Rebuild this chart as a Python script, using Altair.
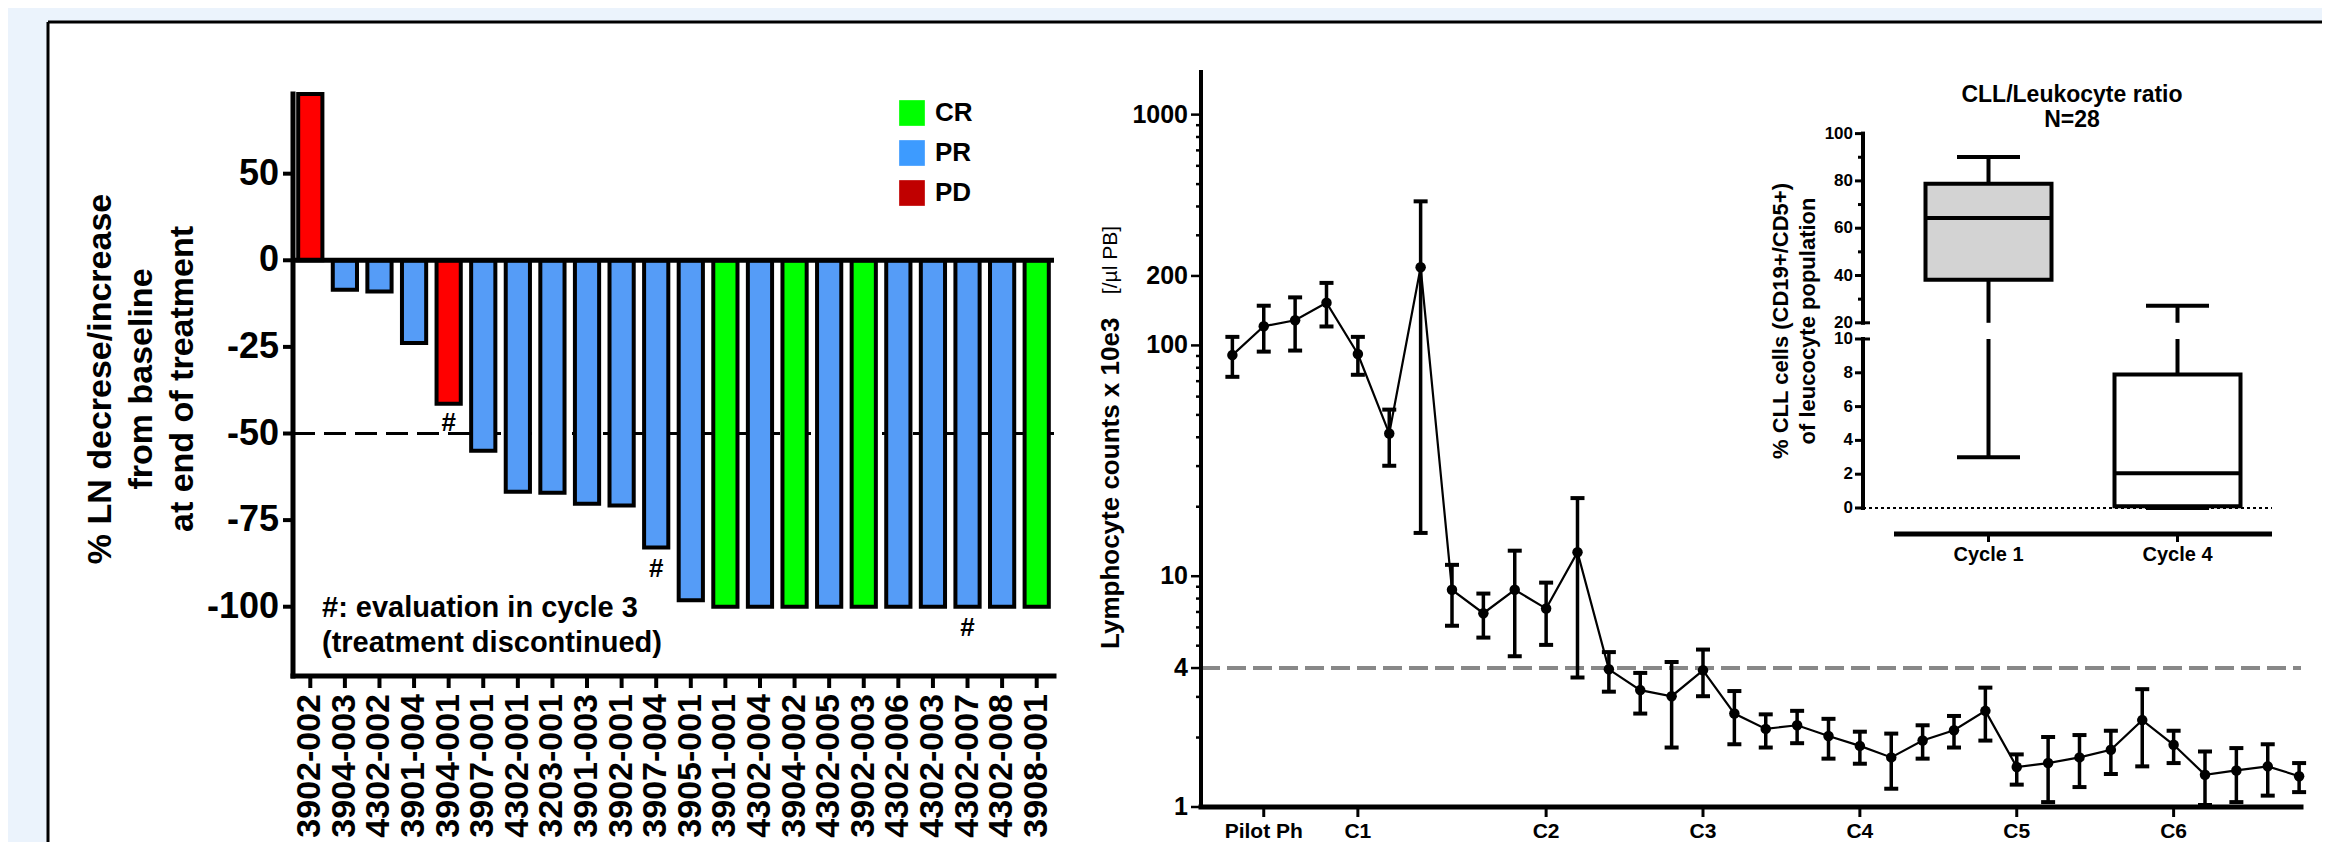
import altair as alt
import pandas as pd

FONT = "Liberation Sans"

# ---------------- left panel: waterfall of lymph-node change ----------------
patient_ids = ["3902-002", "3904-003", "4302-002", "3901-004", "3904-001", "3907-001",
               "4302-001", "3203-001", "3901-003", "3902-001", "3907-004", "3905-001",
               "3901-001", "4302-004", "3904-002", "4302-005", "3902-003", "4302-006",
               "4302-003", "4302-007", "4302-008", "3908-001"]
ln_change = [96, -8.5, -9.0, -23.9, -41.4, -55.0, -66.8, -67.1, -70.3, -70.8, -82.9, -98.1,
             -100, -100, -100, -100, -100, -100, -100, -100, -100, -100]
response = ["PD", "PR", "PR", "PR", "PD", "PR", "PR", "PR", "PR", "PR", "PR", "PR",
            "CR", "PR", "CR", "PR", "CR", "PR", "PR", "PR", "PR", "CR"]
resp_order = ["CR", "PR", "PD"]
resp_colors = ["#00ff00", "#559cf7", "#ff0000"]
legend_colors = ["#00ff00", "#3d9bff", "#c00000"]
hash_ids = ["3904-001", "3907-004", "4302-007"]
hash_pos = [-47, -89, -106]
ln_domain = [-120, 48]                      # positive half drawn at half scale
ln_tick_pos = [-100, -75, -50, -25, 0, 25]
ln_tick_lab = ["-100", "-75", "-50", "-25", "0", "50"]
ln_title = ["% LN decrese/increase", "from baseline", "at end of treatment"]
note_text = "#: evaluation in cycle 3\n(treatment discontinued)"

# ---------------- right panel: lymphocyte counts ----------------
visit_index = list(range(35))
lymph_mean = [90.8, 121, 128.5, 153, 91.8, 41.5, 218, 8.73, 6.91, 8.73, 7.24, 12.7, 3.95,
              3.21, 3.02, 3.91, 2.54, 2.18, 2.26, 2.03, 1.84, 1.64, 1.94, 2.15, 2.61, 1.49,
              1.55, 1.64, 1.77, 2.38, 1.86, 1.38, 1.44, 1.50, 1.36]
lymph_upper = [108.9, 148.6, 161.5, 186.6, 108.9, 52.7, 421, 11.2, 8.41, 12.9, 9.38, 21.8,
               4.69, 3.81, 4.25, 4.81, 3.18, 2.52, 2.61, 2.41, 2.12, 2.08, 2.26, 2.48, 3.29,
               1.69, 2.01, 2.05, 2.14, 3.24, 2.14, 1.74, 1.80, 1.87, 1.55]
lymph_lower = [73.1, 94, 95, 120.8, 74.6, 30.1, 15.4, 6.1, 5.42, 4.5, 5.04, 3.64, 3.16,
               2.54, 1.81, 3.02, 1.87, 1.81, 1.89, 1.62, 1.54, 1.2, 1.62, 1.81, 1.94, 1.25,
               1.05, 1.22, 1.39, 1.5, 1.55, 1.02, 1.05, 1.12, 1.16]
x_tick_pos = [1, 4, 10, 15, 20, 25, 30]
x_tick_lab = ["Pilot Ph", "C1", "C2", "C3", "C4", "C5", "C6"]
y_major = [1, 4, 10, 100, 200, 1000]
y_minor = [2, 3, 5, 6, 7, 8, 9, 20, 30, 40, 50, 60, 70, 80, 90,
           300, 400, 500, 600, 700, 800, 900]
y_title_main = "Lymphocyte counts x 10e3"
y_title_unit = "[/µl PB]"
threshold = [4]
x_domain = [-1, 34.06]
y_domain = [1, 1530]

# ---------------- inset: CLL / leukocyte ratio ----------------
cycles = ["Cycle 1", "Cycle 4"]
box_low = [3.0, 0.0]
box_q1 = [38.2, 0.1]
box_med = [64.3, 2.05]
box_q3 = [78.8, 7.9]
box_high = [90.1, 27.2]
box_fill = ["#d3d3d3", "#ffffff"]
upper_domain = [20, 100]
upper_major = [20, 40, 60, 80, 100]
upper_minor = [30, 50, 70, 90]
lower_domain = [0, 10]
lower_major = [0, 2, 4, 6, 8, 10]
inset_title = "CLL/Leukocyte ratio\nN=28"
inset_ytitle = ["% CLL cells (CD19+/CD5+)", "of leucocyte population"]

# ---------------- layout (pixels inside the white panel) ----------------
W, H = 2274, 820
BX0, BX1 = 245, 1006
BY_BOT, BY_TOP = 654, 72
RX0, RX1 = 1153, 2253
RY_BOT, RY_TOP = 785, 50
IAX = 1815
IX0, IX1 = 1846, 2224
IU_BOT, IU_TOP = 300.8, 111.6
IL_BOT, IL_TOP = 486, 317
IXAXIS_Y = 512


def df(**cols):
    return pd.DataFrame(cols)


def vrule(data, x, yf, y2f, w):
    return alt.Chart(data).mark_rule(color="black", strokeWidth=w, strokeCap="square").encode(
        x=alt.value(x), y=yf, y2=y2f)


def ticks_left(data, yf, x_axis, length, w, right=0):
    return alt.Chart(data).mark_rule(color="black", strokeWidth=w).encode(
        x=alt.value(x_axis - length), x2=alt.value(x_axis + right), y=yf)


def labels_left(data, yf, x_axis, pad, size):
    return alt.Chart(data).mark_text(align="right", baseline="middle", fontSize=size,
                                     fontWeight="bold", color="black").encode(
        x=alt.value(x_axis - pad), y=yf, text="lab:N")


def free_text(txt, x, y, size, angle=0, line_h=None, align="center", weight="bold"):
    props = dict(align=align, baseline="middle", fontSize=size, fontWeight=weight,
                 color="black", lineBreak="\n", angle=angle)
    if line_h:
        props["lineHeight"] = line_h
    return alt.Chart(df(t=[txt])).mark_text(**props).encode(
        x=alt.value(x), y=alt.value(y), text="t:N")


# ======== panel frame (top and left edges only; the others run off the page) ========
frame_df = df(k=[0])
frame_left = alt.Chart(frame_df).mark_rule(color="black", strokeWidth=3).encode(
    x=alt.value(0), y=alt.value(0), y2=alt.value(H))
frame_top = alt.Chart(frame_df).mark_rule(color="black", strokeWidth=3).encode(
    x=alt.value(0), x2=alt.value(W), y=alt.value(0))

# ======== left panel ========
bars_df = df(id=patient_ids, v=ln_change, resp=response)
bar_xscale = alt.Scale(type="band", domain=patient_ids, range=[BX0, BX1],
                       paddingInner=0.3, paddingOuter=0.15)
bar_yscale = alt.Scale(domain=ln_domain, range=[BY_BOT, BY_TOP], nice=False, zero=False)

bars = alt.Chart(bars_df).transform_calculate(
    yp="datum.v > 0 ? datum.v / 2 : datum.v"
).mark_bar(stroke="black", strokeWidth=4).encode(
    x=alt.X("id:N", sort=patient_ids, scale=bar_xscale),
    y=alt.Y("yp:Q", scale=bar_yscale),
    color=alt.Color("resp:N", scale=alt.Scale(domain=resp_order, range=resp_colors), legend=None)
)
dash = alt.Chart(df(yp=[-50])).mark_rule(color="black", strokeWidth=3, strokeDash=[22, 9]).encode(
    y="yp:Q", x=alt.value(BX0), x2=alt.value(BX1))
zero_rule = alt.Chart(df(yp=[0])).mark_rule(color="black", strokeWidth=5).encode(
    y="yp:Q", x=alt.value(BX0), x2=alt.value(BX1))
hashes = alt.Chart(df(id=hash_ids, yp=hash_pos, t=["#"] * len(hash_ids))).mark_text(
    fontSize=26, fontWeight="bold", color="black").encode(
    x=alt.X("id:N", sort=patient_ids), y="yp:Q", text="t:N")
note = free_text(note_text, 274, 586, 29, line_h=35, align="left")

# axes drawn from the same scales
b_ytick_df = df(yp=ln_tick_pos, lab=ln_tick_lab)
b_yline = vrule(df(yp=[ln_domain[0]], yp2=[ln_domain[1]]), BX0, "yp:Q", "yp2:Q", 5)
b_yticks = ticks_left(b_ytick_df, "yp:Q", BX0, 10, 4)
b_ylabels = labels_left(b_ytick_df, "yp:Q", BX0, 14, 36)
b_ytitle = free_text("\n".join(ln_title), 53, 357, 34, angle=270, line_h=41)
b_xline = alt.Chart(df(yp=[ln_domain[0]])).mark_rule(color="black", strokeWidth=5, strokeCap="square").encode(
    y="yp:Q", x=alt.value(BX0), x2=alt.value(BX1))
b_xticks = alt.Chart(bars_df).mark_rule(color="black", strokeWidth=4).encode(
    x=alt.X("id:N", sort=patient_ids), y=alt.value(BY_BOT), y2=alt.value(BY_BOT + 12))
b_xlabels = alt.Chart(bars_df).mark_text(angle=270, align="right", baseline="middle", fontSize=34,
                                         fontWeight="bold", color="black").encode(
    x=alt.X("id:N", sort=patient_ids), y=alt.value(BY_BOT + 18), text="id:N")

bar_group = alt.layer(dash, bars, zero_rule, hashes, note, b_yline, b_yticks, b_ylabels,
                      b_ytitle, b_xline, b_xticks, b_xlabels)

# legend (own colour scale: legend swatches are a darker red than the bars)
legend_layer = alt.Chart(df(resp=resp_order)).mark_square(filled=True, opacity=0).encode(
    x=alt.value(0), y=alt.value(0),
    color=alt.Color("resp:N", scale=alt.Scale(domain=resp_order, range=legend_colors),
                    legend=alt.Legend(title=None, orient="none", legendX=851, legendY=78,
                                      symbolType="square", symbolSize=660, symbolOpacity=1,
                                      symbolStrokeWidth=0, labelFontSize=26,
                                      labelFontWeight="bold", rowPadding=14,
                                      labelOffset=10, padding=0))
)

# ======== right panel ========
lym_df = df(idx=visit_index, mean=lymph_mean, up=lymph_upper, lo=lymph_lower)
main_xscale = alt.Scale(domain=x_domain, range=[RX0, RX1], nice=False, zero=False)
main_yscale = alt.Scale(type="log", domain=y_domain, range=[RY_BOT, RY_TOP], nice=False)

thr = alt.Chart(df(idx=[x_domain[0]], idx2=[x_domain[1]], mean=threshold)).mark_rule(
    color="#888888", strokeWidth=4, strokeDash=[19, 7]).encode(
    x=alt.X("idx:Q", scale=main_xscale), x2="idx2:Q",
    y=alt.Y("mean:Q", scale=main_yscale))
base = alt.Chart(lym_df)
err = base.mark_rule(color="black", strokeWidth=3.5).encode(x="idx:Q", y="lo:Q", y2="up:Q")
cap_up = base.mark_tick(orient="horizontal", size=14, thickness=4, color="black", opacity=1).encode(
    x="idx:Q", y="up:Q")
cap_lo = base.mark_tick(orient="horizontal", size=14, thickness=4, color="black", opacity=1).encode(
    x="idx:Q", y="lo:Q")
line = base.mark_line(color="black", strokeWidth=2.2).encode(x="idx:Q", y="mean:Q")
pts = base.mark_circle(size=110, color="black", opacity=1).encode(x="idx:Q", y="mean:Q")

m_yline = vrule(df(mean=[y_domain[0]], m2=[y_domain[1]]), RX0, "mean:Q", "m2:Q", 4)
m_yticks_major = ticks_left(df(mean=y_major), "mean:Q", RX0, 10, 2.5)
m_yticks_minor = ticks_left(df(mean=y_minor), "mean:Q", RX0, 5, 2.5)
m_ylabels = labels_left(df(mean=y_major, lab=[str(v) for v in y_major]), "mean:Q", RX0, 13, 25)
m_ytitle = free_text(y_title_main, 1063, 627, 26, angle=270, align="left")
m_ytitle_u = free_text(y_title_unit, 1063, 204, 21, angle=270, align="right", weight="normal")
m_xline = alt.Chart(df(idx=[x_domain[0]], idx2=[x_domain[1]], mean=[y_domain[0]])).mark_rule(
    color="black", strokeWidth=5, strokeCap="square").encode(x="idx:Q", x2="idx2:Q", y="mean:Q")
m_xticks = alt.Chart(df(idx=x_tick_pos)).mark_rule(color="black", strokeWidth=3).encode(
    x="idx:Q", y=alt.value(RY_BOT), y2=alt.value(RY_BOT + 10))
m_xlabels = alt.Chart(df(idx=x_tick_pos, lab=x_tick_lab)).mark_text(
    baseline="middle", align="center", fontSize=21, fontWeight="bold", color="black").encode(
    x="idx:Q", y=alt.value(RY_BOT + 25), text="lab:N")

main_group = alt.layer(thr, err, cap_up, cap_lo, line, pts, m_yline, m_yticks_major,
                       m_yticks_minor, m_ylabels, m_ytitle, m_ytitle_u, m_xline, m_xticks,
                       m_xlabels)

# ======== inset ========
box_df = df(cycle=cycles, low=box_low, q1=box_q1, med=box_med, q3=box_q3, high=box_high,
            fill=box_fill)
ix_scale = alt.Scale(type="band", domain=cycles, range=[IX0, IX1], paddingInner=0, paddingOuter=0)
up_scale = alt.Scale(domain=upper_domain, range=[IU_BOT, IU_TOP], nice=False, zero=False, clamp=True)
lo_scale = alt.Scale(domain=lower_domain, range=[IL_BOT, IL_TOP], nice=False, zero=False, clamp=True)
ixn = alt.X("cycle:N", sort=cycles)
BOXW = 126
CAPW = 63

ib = alt.Chart(box_df)
u_wlo = ib.transform_filter("datum.q1 > 20").mark_rule(color="black", strokeWidth=4).encode(
    x=alt.X("cycle:N", sort=cycles, scale=ix_scale),
    y=alt.Y("low:Q", scale=up_scale), y2="q1:Q")
u_whi = ib.transform_filter("datum.high > 20").mark_rule(color="black", strokeWidth=4).encode(
    x=ixn, y="q3:Q", y2="high:Q")
u_box = ib.transform_filter("datum.q3 > 20").mark_bar(width=BOXW, stroke="black", strokeWidth=4).encode(
    x=ixn, y="q1:Q", y2="q3:Q", fill=alt.Fill("fill:N", scale=None))
u_med = ib.transform_filter("datum.med > 20").mark_tick(orient="horizontal", size=BOXW, thickness=4,
                                                        color="black", opacity=1).encode(
    x=ixn, y="med:Q")
u_cap = ib.transform_filter("datum.high > 20").mark_tick(orient="horizontal", size=CAPW, thickness=4,
                                                         color="black", opacity=1).encode(
    x=ixn, y="high:Q")
u_yline = vrule(df(low=[upper_domain[0]], l2=[upper_domain[1]]), IAX, "low:Q", "l2:Q", 4)
u_tmaj = ticks_left(df(low=upper_major[1:]), "low:Q", IAX, 8, 3)
u_tbrk = ticks_left(df(low=upper_major[:1]), "low:Q", IAX, 8, 3, right=7)
u_tmin = ticks_left(df(low=upper_minor), "low:Q", IAX, 5, 3)
u_lab = labels_left(df(low=upper_major, lab=[str(v) for v in upper_major]), "low:Q", IAX, 10, 17)
u_title = free_text("\n".join(inset_ytitle), 1733, 299, 22, angle=270, line_h=27)
inset_up = alt.layer(u_wlo, u_whi, u_box, u_med, u_cap, u_yline, u_tmaj, u_tbrk, u_tmin, u_lab,
                     u_title)

l_zero = alt.Chart(df(low=[0])).mark_rule(color="black", strokeWidth=2, strokeDash=[3, 3]).encode(
    y=alt.Y("low:Q", scale=lo_scale), x=alt.value(IAX), x2=alt.value(IX1))
l_wlo = ib.transform_filter("datum.low < 10").mark_rule(color="black", strokeWidth=4).encode(
    x=alt.X("cycle:N", sort=cycles, scale=ix_scale), y="low:Q", y2="q1:Q")
l_whi = ib.transform_filter("datum.q3 < 10").mark_rule(color="black", strokeWidth=4).encode(
    x=ixn, y="q3:Q", y2="high:Q")
l_box = ib.transform_filter("datum.q1 < 10").mark_bar(width=BOXW, stroke="black", strokeWidth=4).encode(
    x=ixn, y="q1:Q", y2="q3:Q", fill=alt.Fill("fill:N", scale=None))
l_med = ib.transform_filter("datum.med < 10").mark_tick(orient="horizontal", size=BOXW, thickness=4,
                                                        color="black", opacity=1).encode(
    x=ixn, y="med:Q")
l_cap = ib.transform_filter("datum.low < 10").mark_tick(orient="horizontal", size=CAPW, thickness=4,
                                                        color="black", opacity=1).encode(
    x=ixn, y="low:Q")
l_yline = vrule(df(low=[lower_domain[0]], l2=[lower_domain[1]]), IAX, "low:Q", "l2:Q", 4)
l_tmaj = ticks_left(df(low=lower_major[:-1]), "low:Q", IAX, 8, 3)
l_tbrk = ticks_left(df(low=lower_major[-1:]), "low:Q", IAX, 8, 3, right=7)
l_lab = labels_left(df(low=lower_major, lab=[str(v) for v in lower_major]), "low:Q", IAX, 10, 17)
i_xline = alt.Chart(df(k=[0])).mark_rule(color="black", strokeWidth=5).encode(
    x=alt.value(IX0), x2=alt.value(IX1), y=alt.value(IXAXIS_Y))
i_xticks = ib.mark_rule(color="black", strokeWidth=3).encode(
    x=ixn, y=alt.value(IXAXIS_Y), y2=alt.value(IXAXIS_Y + 8))
i_xlabels = ib.mark_text(baseline="middle", align="center", fontSize=20, fontWeight="bold",
                         color="black").encode(x=ixn, y=alt.value(IXAXIS_Y + 21), text="cycle:N")
i_title = free_text(inset_title, 2024, 73, 23, line_h=25)
inset_low = alt.layer(l_zero, l_wlo, l_whi, l_box, l_med, l_cap, l_yline, l_tmaj, l_tbrk, l_lab,
                      i_xline, i_xticks, i_xlabels, i_title)

chart = alt.layer(frame_left, frame_top, bar_group, legend_layer, main_group, inset_up,
                  inset_low).resolve_scale(
    x="independent", y="independent", color="independent"
).properties(
    width=W, height=H, autosize=alt.AutoSizeParams(type="none"),
    padding={"left": 40, "top": 14, "right": 0, "bottom": 0},
    background="#ebf3fc"
).configure(
    font=FONT
).configure_view(
    fill="white", stroke=None
).configure_axis(
    disable=True
)

chart.save("out.html", embed_options={"renderer": "svg", "actions": False})
